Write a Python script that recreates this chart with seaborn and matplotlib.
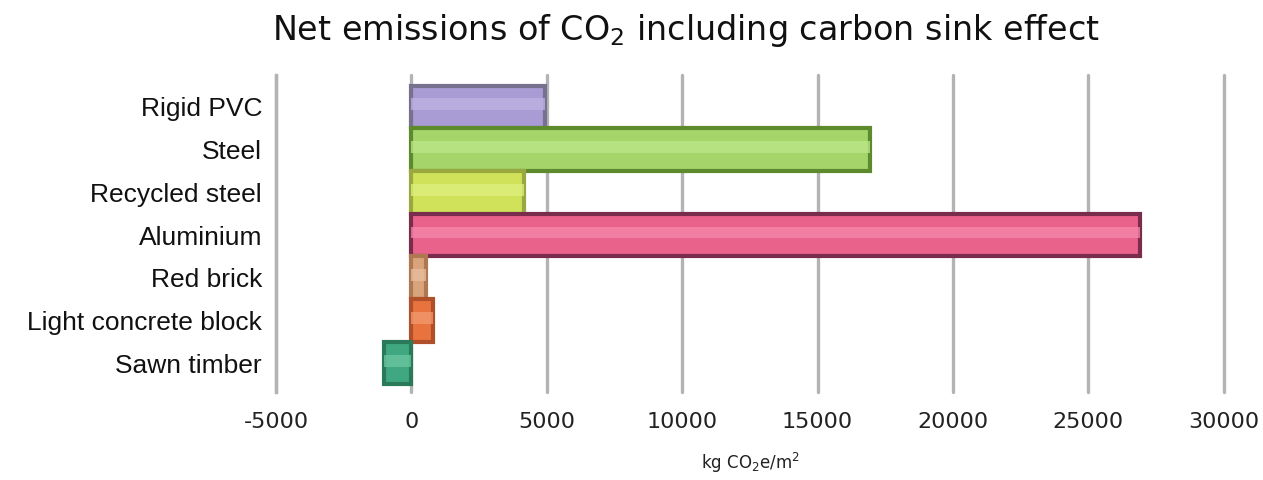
import matplotlib.pyplot as plt
import pandas as pd
import seaborn as sns

materials = ["Rigid PVC", "Steel", "Recycled steel", "Aluminium",
             "Red brick", "Light concrete block", "Sawn timber"]
emissions = [4950, 16950, 4150, 26900, 550, 800, -1000]
face_colors = ["#a99bd3", "#a5d46a", "#cfe25a", "#e9628c",
               "#d9a47c", "#e8733e", "#3fa882"]
edge_colors = ["#77708f", "#5e8a2e", "#9aa840", "#7a2c4c",
               "#b07850", "#b0502a", "#2a7a5a"]
light_colors = ["#bfb4e4", "#bce88a", "#e0f080", "#f688ac",
                "#e8c0a0", "#f29a70", "#6cc8a0"]
x_ticks = [-5000, 0, 5000, 10000, 15000, 20000, 25000, 30000]

df = pd.DataFrame({"material": materials, "value": emissions})

sns.set_theme(style="white")
fig = plt.figure(figsize=(12.63, 4.8), dpi=100)
ax = fig.add_axes([0.2185, 0.183, 0.7505, 0.66])

sns.barplot(data=df, y="material", x="value", hue="material",
            palette=face_colors, orient="h", width=1.0, legend=False,
            saturation=1, linewidth=3, ax=ax, zorder=2)
for patch, ec in zip(ax.patches, edge_colors):
    patch.set_edgecolor(ec)

# lighter stripe to mimic the glossy 3D bars
n = len(ax.patches)
sns.barplot(data=df, y="material", x="value", hue="material",
            palette=light_colors, orient="h", width=0.28, legend=False,
            saturation=1, linewidth=0, ax=ax, zorder=3, alpha=0.75)
for patch in ax.patches[n:]:
    patch.set_y(patch.get_y() - 0.06)

ax.set_xlim(-5000, 30000)
ax.set_ylim(6.68, -0.74)
ax.set_xticks(x_ticks)
ax.set_xticklabels([str(t) for t in x_ticks], fontsize=16,
                   family="DejaVu Sans", color="#222222")
ax.tick_params(axis="x", pad=14, length=0)
ax.tick_params(axis="y", pad=10, length=0)
for lab in ax.get_yticklabels():
    lab.set_fontsize(19)
    lab.set_family("Liberation Sans")
    lab.set_color("#111111")

ax.grid(axis="x", color="#b3b3b3", linewidth=2.4, zorder=0)
for gl in ax.get_xgridlines():
    gl.set_clip_on(False)
ax.set_axisbelow(True)
for side in ["top", "right", "bottom"]:
    ax.spines[side].set_visible(False)
ax.spines["left"].set_color("#b3b3b3")
ax.spines["left"].set_linewidth(2.4)

ax.set_ylabel("")
ax.set_xlabel("kg CO$_2$e/m$^2$", fontsize=12, family="DejaVu Sans",
              labelpad=14, color="#222222")
fig.suptitle("Net emissions of CO$_2$ including carbon sink effect",
             fontsize=24, family="DejaVu Sans", x=0.543, y=0.975,
             color="#111111")

fig.savefig("out.png", dpi=100)
